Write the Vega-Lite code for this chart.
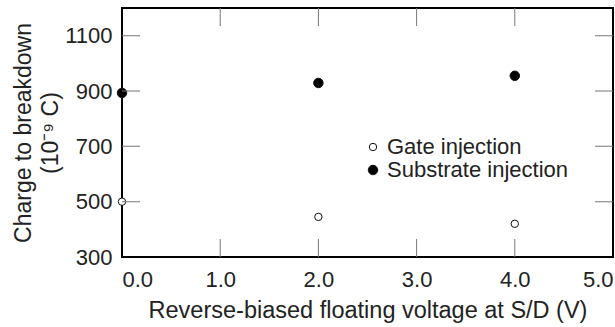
{
  "$schema": "https://vega.github.io/schema/vega-lite/v6.json",
  "width": 491,
  "height": 249,
  "autosize": "none",
  "padding": {"left": 122, "top": 8, "right": 2, "bottom": 70},
  "background": "white",
  "config": {
    "font": "Liberation Sans",
    "view": {"stroke": "black", "strokeWidth": 2},
    "axis": {"domain": false, "ticks": false, "grid": false,
             "labelFontSize": 22, "labelColor": "#222", "titleFontSize": 23, "titleFontWeight": "normal", "titleColor": "#222"}
  },
  "layer": [
    {
      "data": {"values": [
        {"v": 0, "q": 893, "series": "Substrate injection"},
        {"v": 2, "q": 929, "series": "Substrate injection"},
        {"v": 4, "q": 955, "series": "Substrate injection"},
        {"v": 0, "q": 500, "series": "Gate injection"},
        {"v": 2, "q": 445, "series": "Gate injection"},
        {"v": 4, "q": 420, "series": "Gate injection"}
      ]},
      "mark": {"type": "point", "filled": true, "stroke": "#111", "strokeWidth": 1, "opacity": 1, "clip": false},
      "encoding": {
        "x": {"field": "v", "type": "quantitative", "scale": {"domain": [0, 5], "nice": false},
              "axis": {"orient": "bottom", "values": [0, 1, 2, 3, 4, 5],
                       "labelPadding": 12, "title": "Reverse-biased floating voltage at S/D (V)", "titleFontSize": 23.5, "titlePadding": 8}},
        "y": {"field": "q", "type": "quantitative", "scale": {"domain": [300, 1200], "nice": false, "zero": false},
              "axis": {"orient": "left", "values": [300, 500, 700, 900, 1100],
                       "format": "d", "labelPadding": 10,
                       "title": ["Charge to breakdown", "(10⁻⁹ C)"], "titleLineHeight": 27, "titlePadding": 2}},
        "fill": {"field": "series", "type": "nominal",
                 "scale": {"domain": ["Gate injection", "Substrate injection"], "range": ["white", "black"]},
                 "legend": {"orient": "none", "legendX": 240, "legendY": 128, "title": null, "labelFontSize": 22,
                            "labelColor": "#222", "symbolStrokeColor": "#111", "symbolStrokeWidth": 1,
                            "rowPadding": 1, "labelOffset": 3, "labelLimit": 400}},
        "size": {"field": "series", "type": "nominal",
                 "scale": {"domain": ["Gate injection", "Substrate injection"], "range": [55, 90]}}
      }
    },
    {
      "data": {"values": [{"v": 1}, {"v": 2}, {"v": 3}, {"v": 4}]},
      "mark": {"type": "tick", "orient": "vertical", "size": 36, "thickness": 1, "color": "#777", "opacity": 1, "clip": true},
      "encoding": {
        "x": {"field": "v", "type": "quantitative"},
        "y": {"datum": 300, "type": "quantitative"}
      }
    },
    {
      "data": {"values": [{"v": 1}, {"v": 2}, {"v": 3}, {"v": 4}]},
      "mark": {"type": "tick", "orient": "vertical", "size": 36, "thickness": 1, "color": "#777", "opacity": 1, "clip": true},
      "encoding": {
        "x": {"field": "v", "type": "quantitative"},
        "y": {"datum": 1200, "type": "quantitative"}
      }
    },
    {
      "data": {"values": [{"q": 500}, {"q": 700}, {"q": 900}, {"q": 1100}]},
      "mark": {"type": "tick", "orient": "horizontal", "size": 36, "thickness": 1, "color": "#777", "opacity": 1, "clip": true},
      "encoding": {
        "x": {"datum": 0, "type": "quantitative"},
        "y": {"field": "q", "type": "quantitative"}
      }
    },
    {
      "data": {"values": [{"q": 500}, {"q": 700}, {"q": 900}, {"q": 1100}]},
      "mark": {"type": "tick", "orient": "horizontal", "size": 36, "thickness": 1, "color": "#777", "opacity": 1, "clip": true},
      "encoding": {
        "x": {"datum": 5, "type": "quantitative"},
        "y": {"field": "q", "type": "quantitative"}
      }
    }
  ]
}
